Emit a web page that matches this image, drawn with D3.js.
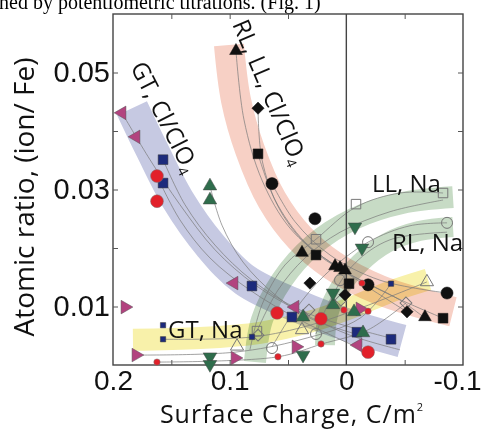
<!DOCTYPE html>
<meta charset="utf-8">
<script src="https://d3js.org/d3.v7.min.js"></script>
<style>
  body { margin: 0; background: #fff; }
  svg { display: block; }
</style>
<div id="chart"></div>
<script>
// axis ticks and labels
const xTicks = [0.15, 0.1, 0.05, -0.05];
const xLabels = [0.2, 0.1, 0, -0.1];
const yTicks = [0.01, 0.02, 0.03, 0.04, 0.05];
const yLabels = [0.01, 0.03, 0.05];

// shaded bands (centre lines, surface charge vs ratio)
const bandGtCl = [[0.1837,0.0439],[0.1666,0.0368],[0.1443,0.0282],[0.1169,0.0205],[0.0869,0.0145],[0.0397,0.0099],[-0.0031,0.0067],[-0.0477,0.0041]];
const bandRlCl = [[0.1006,0.0547],[0.0946,0.0453],[0.0826,0.0368],[0.0637,0.0282],[0.0397,0.0217],[0.0123,0.0171],[-0.0288,0.0128],[-0.0914,0.0091]];
const bandLlNa = [[0.0783,0.0005],[0.0723,0.0077],[0.0552,0.0145],[0.0286,0.0205],[-0.0066,0.0250],[-0.0477,0.0277],[-0.0914,0.0287]];
const bandRlNa = [[0.0183,0.0034],[0.0157,0.0086],[0.0054,0.0132],[-0.0117,0.0174],[-0.0349,0.0209],[-0.0623,0.0229],[-0.0914,0.0236]];
const bandGtNa = [[0.1829,0.0043],[0.1254,0.0046],[0.0740,0.0055],[0.0312,0.0074],[-0.0031,0.0097],[-0.0374,0.0125],[-0.0700,0.0146]];

// thin fitted curves
const fits = [
  [[0.1923,0.0431],[0.1683,0.0351],[0.1426,0.0274],[0.1126,0.0197],[0.0783,0.0137],[0.0397,0.0091],[-0.0031,0.0051],[-0.0460,0.0026]],
  [[0.1571,0.0351],[0.1383,0.0274],[0.1126,0.0205],[0.0809,0.0145],[0.0397,0.0094],[-0.0117,0.0060],[-0.0383,0.0046]],
  [[0.1623,0.0323],[0.1426,0.0248],[0.1169,0.0183],[0.0826,0.0128],[0.0397,0.0077],[-0.0186,0.0022]],
  [[0.1169,0.0306],[0.1066,0.0239],[0.0886,0.0176],[0.0611,0.0120],[0.0312,0.0080],[-0.0117,0.0051]],
  [[0.0946,0.0537],[0.0877,0.0419],[0.0723,0.0316],[0.0483,0.0234],[0.0140,0.0176],[-0.0374,0.0120],[-0.0829,0.0080]],
  [[0.0757,0.0439],[0.0723,0.0351],[0.0569,0.0265],[0.0312,0.0200],[0.0011,0.0159],[-0.0460,0.0111],[-0.0674,0.0080]],
  [[0.0637,0.0310],[0.0440,0.0245],[0.0140,0.0188],[-0.0288,0.0145],[-0.0863,0.0123]],
  [[0.0757,0.0361],[0.0611,0.0282],[0.0354,0.0210],[0.0011,0.0159],[-0.0511,0.0092]],
  [[0.0826,0.0026],[0.0723,0.0103],[0.0526,0.0171],[0.0260,0.0215],[-0.0083,0.0270],[-0.0460,0.0294],[-0.0829,0.0294]],
  [[0.0766,0.0058],[0.0586,0.0128],[0.0354,0.0183],[0.0054,0.0227],[-0.0374,0.0262],[-0.0829,0.0282]],
  [[0.0637,0.0031],[0.0440,0.0094],[0.0183,0.0154],[-0.0186,0.0210],[-0.0546,0.0238],[-0.0863,0.0243]],
  [[0.0260,0.0053],[0.0140,0.0111],[-0.0074,0.0174],[-0.0374,0.0214],[-0.0863,0.0227]],
  [[0.1571,0.0044],[0.0800,0.0048],[0.0312,0.0068],[-0.0117,0.0097],[-0.0691,0.0142]],
  [[0.1803,0.0017],[0.0954,0.0022],[0.0397,0.0043],[-0.0117,0.0080],[-0.0383,0.0139]],
  [[0.1614,0.0005],[0.0586,0.0014],[0.0209,0.0036],[-0.0186,0.0060],[-0.0511,0.0106]]
];

// black filled markers (RL, LL, Cl/ClO4)
const blackTri = [[0.0946,0.0537],[0.0380,0.0192],[0.0097,0.0169],[0.0054,0.0166],[0.0011,0.0162],[-0.0674,0.0082]];
const blackSquare = [[0.0757,0.0361],[0.0260,0.0188],[-0.0023,0.0139],[-0.0829,0.0080]];
const blackDiamond = [[0.0757,0.0439],[0.0312,0.0140],[0.0011,0.0120],[-0.0520,0.0091]];
const blackCircle = [[0.0637,0.0310],[0.0269,0.0250],[-0.0186,0.0137],[-0.0863,0.0123]];

// open markers (Na)
const openSquare = [[-0.0829,0.0294],[-0.0083,0.0275],[0.0260,0.0215],[0.0766,0.0058]];
const openCircle = [[-0.0863,0.0243],[-0.0186,0.0210],[0.0054,0.0145],[0.0260,0.0053],[0.0637,0.0029]];
const openTri = [[-0.0691,0.0142],[0.0380,0.0060],[0.0937,0.0032]];
const openDiamond = [[-0.0511,0.0106],[0.0320,0.0094],[0.0046,0.0111],[0.0757,0.0051]];

// GT coloured markers
const magentaLeft = [[0.1923,0.0431],[0.1803,0.0390],[0.0963,0.0140],[0.0440,0.0099],[-0.0100,0.0034]];
const magentaRight = [[0.1897,0.0099],[0.1803,0.0017],[0.0954,0.0012],[0.0431,0.0031],[-0.0117,0.0096]];
const navyBig = [[0.1571,0.0351],[0.1571,0.0311],[0.0809,0.0135],[0.0466,0.0082],[-0.0091,0.0056],[-0.0383,0.0044]];
const navySmall = [[0.1571,0.0068],[0.1571,0.0044],[0.0809,0.0048],[-0.0383,0.0139]];
const redBig = [[0.1623,0.0323],[0.1623,0.0280],[0.0594,0.0089],[0.0217,0.0079],[-0.0186,0.0022]];
const redSmall = [[0.1623,0.0005],[0.0586,0.0014],[0.0217,0.0036],[0.0020,0.0094],[-0.0134,0.0140],[-0.0186,0.0092]];
const greenUp = [[0.1169,0.0306],[0.1169,0.0282],[0.0114,0.0103],[0.0371,0.0082],[-0.0066,0.0091],[-0.0143,0.0055]];
const greenDown = [[0.1169,0.0014],[0.1169,0.0001],[-0.0074,0.0236],[-0.0134,0.0200],[0.0114,0.0123],[0.0371,0.0017]];

const W = 486, H = 430;
const margin = {top: 14, right: 23, bottom: 65, left: 113},
    width = W - margin.left - margin.right,
    height = H - margin.top - margin.bottom;

const svg = d3.select("#chart").append("svg")
    .attr("width", W).attr("height", H);

// cut-off caption line from the page above
svg.append("text")
    .attr("x", -1).attr("y", 8.5)
    .style("font-family", "Liberation Serif, serif")
    .style("font-size", "20px")
    .text("ned by potentiometric titrations. (Fig. 1)");

const g = svg.append("g")
    .attr("transform", `translate(${margin.left},${margin.top})`);

const x = d3.scaleLinear().domain([0.2, -0.1]).range([0, width]);
const y = d3.scaleLinear().domain([0, 0.06]).range([height, 0]);

const curve = d3.line().x(d => x(d[0])).y(d => y(d[1])).curve(d3.curveCatmullRom.alpha(0.5));

// bands
const bands = [
  [bandGtCl, "#c6c9e2", 33],
  [bandRlCl, "#f7d0c5", 30],
  [bandLlNa, "#c7dbc5", 22],
  [bandRlNa, "#c7dbc5", 20],
  [bandGtNa, "#f8f1aa", 22]
];
g.selectAll(".band").data(bands).join("path")
    .attr("class", "band")
    .attr("d", d => curve(d[0]))
    .attr("fill", "none")
    .attr("stroke", d => d[1])
    .attr("stroke-width", d => d[2])
    .attr("stroke-linecap", "butt")
    .style("mix-blend-mode", "multiply");

// fits
g.selectAll(".fit").data(fits).join("path")
    .attr("class", "fit")
    .attr("d", curve)
    .attr("fill", "none")
    .attr("stroke", "#7a7a7a")
    .attr("stroke-width", 0.7);

// frame, zero line
g.append("rect").attr("width", width).attr("height", height)
    .attr("fill", "none").attr("stroke", "#444").attr("stroke-width", 1.4);
g.append("line").attr("x1", x(0)).attr("x2", x(0)).attr("y1", 0).attr("y2", height)
    .attr("stroke", "#444").attr("stroke-width", 1.4);

// inward ticks
const tickStyle = sel => { sel.select(".domain").remove(); sel.selectAll("line").attr("stroke", "#555"); };
g.append("g").attr("transform", `translate(0,${height})`)
    .call(d3.axisBottom(x).tickValues(xTicks).tickSize(-5).tickFormat("")).call(tickStyle);
g.append("g")
    .call(d3.axisTop(x).tickValues(xTicks).tickSize(-5).tickFormat("")).call(tickStyle);
g.append("g")
    .call(d3.axisLeft(y).tickValues(yTicks).tickSize(-5).tickFormat("")).call(tickStyle);
g.append("g").attr("transform", `translate(${width},0)`)
    .call(d3.axisRight(y).tickValues(yTicks).tickSize(-5).tickFormat("")).call(tickStyle);

// tick labels
const xl = g.append("g").attr("transform", `translate(0,${height})`)
    .call(d3.axisBottom(x).tickValues(xLabels).tickSize(0).tickPadding(5).tickFormat(d => d === 0 ? "0" : String(d)));
xl.select(".domain").remove();
xl.selectAll("text").style("font-family", "Liberation Sans, Arial, sans-serif").style("font-size", "28px").attr("fill", "#111");
xl.selectAll("text").filter(d => d === -0.1).attr("x", -6);

const yl = g.append("g")
    .call(d3.axisLeft(y).tickValues(yLabels).tickSize(0).tickPadding(3).tickFormat(d3.format(".2f")));
yl.select(".domain").remove();
yl.selectAll("text").style("font-family", "Liberation Sans, Arial, sans-serif").style("font-size", "29px").attr("fill", "#111");

// axis titles
svg.append("text")
    .attr("transform", "translate(34,197) rotate(-90)")
    .attr("text-anchor", "middle")
    .style("font-family", "Open Sans, sans-serif").style("font-size", "28px").attr("fill", "#111")
    .text("Atomic ratio, (ion/ Fe)");
const xt = svg.append("text")
    .attr("x", 292).attr("y", 423)
    .attr("text-anchor", "middle")
    .style("font-family", "Open Sans, sans-serif").style("font-size", "25px")
    .style("letter-spacing", "1px").attr("fill", "#111");
xt.append("tspan").text("Surface Charge, C/m");
xt.append("tspan").attr("dy", -12).style("font-size", "11px").text("2");

// markers
const sym = (type, size) => d3.symbol().type(type).size(size)();
function marks(data, type, size, fill, stroke, sw, rot) {
  g.append("g").selectAll("path").data(data).join("path")
      .attr("transform", d => `translate(${x(d[0])},${y(d[1])}) rotate(${rot})`)
      .attr("d", sym(type, size))
      .attr("fill", fill)
      .attr("stroke", stroke)
      .attr("stroke-width", sw);
}
marks(openSquare, d3.symbolSquare, 90, "none", "#777", 1, 0);
marks(openCircle, d3.symbolCircle, 95, "none", "#777", 1, 0);
marks(openTri, d3.symbolTriangle, 75, "none", "#777", 1, 0);
marks(openDiamond, d3.symbolSquare, 70, "none", "#777", 1, 45);

marks(blackTri, d3.symbolTriangle, 70, "#111", "#111", 0.5, 0);
marks(blackSquare, d3.symbolSquare, 95, "#111", "#111", 0.5, 0);
marks(blackDiamond, d3.symbolSquare, 75, "#111", "#111", 0.5, 45);
marks(blackCircle, d3.symbolCircle, 115, "#111", "#111", 0.5, 0);

marks(magentaLeft, d3.symbolTriangle, 80, "#b2437f", "#555", 0.5, -90);
marks(magentaRight, d3.symbolTriangle, 80, "#b2437f", "#555", 0.5, 90);
marks(navyBig, d3.symbolSquare, 95, "#1c2a7c", "#333", 0.5, 0);
marks(navySmall, d3.symbolSquare, 28, "#1c2a7c", "#333", 0.5, 0);
marks(redBig, d3.symbolCircle, 130, "#e2202a", "#777", 0.5, 0);
marks(redSmall, d3.symbolCircle, 32, "#e2202a", "#777", 0.5, 0);
marks(greenUp, d3.symbolTriangle, 80, "#2f6d4c", "#444", 0.5, 0);
marks(greenDown, d3.symbolTriangle, 80, "#2f6d4c", "#444", 0.5, 180);

// series labels
const lab = svg.append("g")
    .style("font-family", "Open Sans, sans-serif").style("font-size", "24px").attr("fill", "#111");
lab.append("text").attr("x", 372).attr("y", 192).text("LL, Na");
lab.append("text").attr("x", 392).attr("y", 251).text("RL, Na");
lab.append("text").attr("x", 168).attr("y", 338).text("GT, Na");
const t1 = lab.append("text").attr("transform", "translate(130,67) rotate(63)");
t1.append("tspan").text("GT, Cl/ClO");
t1.append("tspan").attr("dy", 5).style("font-size", "14px").text("4");
const t2 = lab.append("text").attr("transform", "translate(232,24) rotate(67)");
t2.append("tspan").text("RL, LL, Cl/ClO");
t2.append("tspan").attr("dy", 5).style("font-size", "14px").text("4");
</script>
